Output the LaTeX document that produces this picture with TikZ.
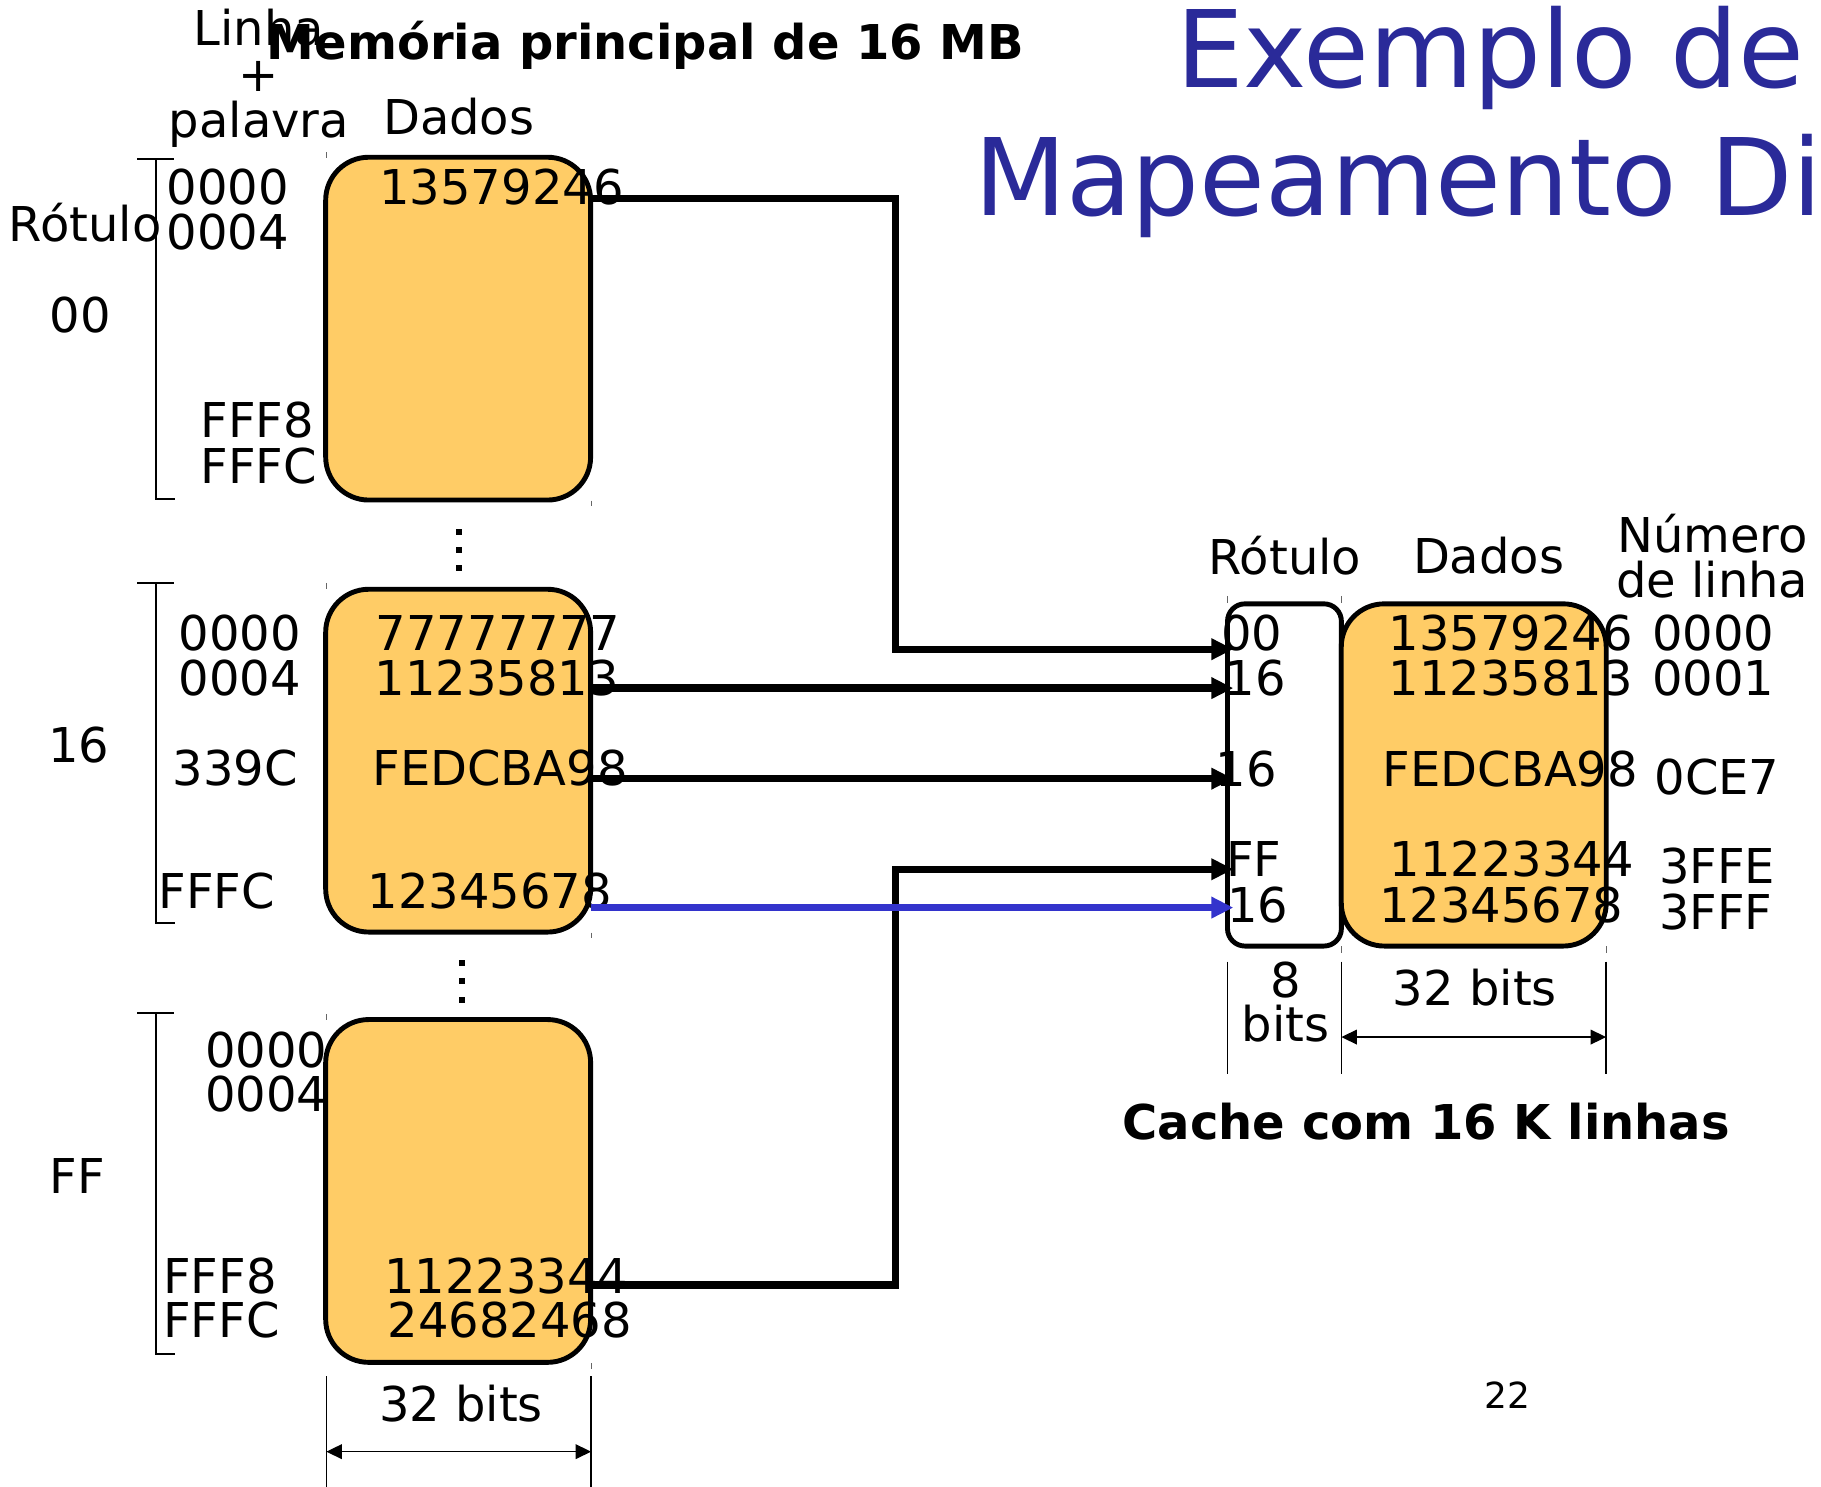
\documentclass[tikz,border=0pt]{standalone}
\usepackage{fontspec}
\setmainfont{DejaVu Sans}
\usetikzlibrary{arrows.meta}

\definecolor{laranja}{RGB}{255,204,102}
\definecolor{azultitulo}{RGB}{42,42,153}
\definecolor{azulseta}{RGB}{51,51,204}

\newcommand{\fonteNormal}{\fontsize{11.75pt}{11.2pt}\selectfont}
\newcommand{\fonteTitulo}{\fontsize{26.2pt}{26pt}\selectfont}
\newcommand{\fontePag}{\fontsize{8.8pt}{10pt}\selectfont}

\begin{document}
\begin{tikzpicture}[x=0.01cm, y=-0.01cm,
        texto/.style={inner sep=0pt, anchor=base west, font=\fonteNormal},
        centro/.style={inner sep=0pt, anchor=base, font=\fonteNormal},
        bloco/.style={draw, line width=1.2pt, fill=laranja, rounded corners=0.37cm, minimum width=2.28cm, minimum height=2.95cm, inner sep=0pt},
        caixarot/.style={draw, line width=1.2pt, fill=white, rounded corners=0.15cm, minimum width=0.98cm, minimum height=2.945cm, inner sep=0pt},
        chave/.style={line width=0.45pt},
        cota/.style={line width=0.35pt},
        seta/.style={line width=0.35pt, {Triangle[length=3.8pt,width=3.6pt]}-{Triangle[length=3.8pt,width=3.6pt]}},
        marca/.style={line width=0.3pt, black!60},
        fio/.style={line width=1.8pt, -{Triangle[length=5.4pt,width=5pt]}},
        fioazul/.style={line width=1.6pt, azulseta, -{Triangle[length=5.4pt,width=5pt]}}
    ]
    \useasboundingbox (0,0) rectangle (1568,1280);

    % titulo
    \node[texto, font=\fonteTitulo, text=azultitulo] (tit1) at (1012,75.5) {Exemplo de};
    \node[texto, font=\fonteTitulo, text=azultitulo] (tit2) at (838,186) {Mapeamento Di};

    % memoria principal
    \node[centro] (hlin) at (223,39) {Linha};
    \node[centro] (hmais) at (223,78.5) {+};
    \node[centro] (hpal) at (223,118) {palavra};
    \node[centro] (hdad) at (395,116) {Dados};
    \node[texto, font=\fonteNormal\bfseries] (hmem) at (229,51) {Memória principal de 16 MB};
    \node[texto] (hrot) at (7,208) {Rótulo};

    \node[bloco] (mem1) at (394.5,283) {};
    \node[bloco] (mem2) at (394.5,655) {};
    \node[bloco] (mem3) at (394.5,1025.5) {};

    \draw[chave] (118,137) -- (150,137) (134,137) -- (134,430) -- (151,430);
    \draw[chave] (118,502) -- (150,502) (134,502) -- (134,795) -- (151,795);
    \draw[chave] (118,872) -- (150,872) (134,872) -- (134,1166) -- (151,1166);

    \draw[marca] (281,131) -- (281,136) (509,431) -- (509,436);
    \draw[marca] (281,502) -- (281,507) (509,803) -- (509,808);
    \draw[marca] (281,873) -- (281,878) (509,1174) -- (509,1179);

    \foreach \y in {458,473.5,489} \fill (393,\y-2.5) rectangle +(5,5);
    \foreach \y in {829,845,861} \fill (395.5,\y-2.5) rectangle +(5,5);

    % bloco 00
    \node[texto] (t00) at (42,286) {00};
    \node[texto] (a10) at (143,176) {0000};
    \node[texto] (a11) at (143,215) {0004};
    \node[texto] (a12) at (172,377) {FFF8};
    \node[texto] (a13) at (172,416) {FFFC};
    \node[texto] (d10) at (326,176) {13579246};

    % bloco 16
    \node[texto] (t16) at (41,657) {16};
    \node[texto] (a20) at (153,560) {0000};
    \node[texto] (a21) at (153,599) {0004};
    \node[texto] (a22) at (148,676) {339C};
    \node[texto] (a23) at (136,782) {FFFC};
    \node[texto] (d20) at (323,560) {77777777};
    \node[texto] (d21) at (322,599) {11235813};
    \node[texto] (d22) at (320,676) {FEDCBA98};
    \node[texto] (d23) at (316,782) {12345678};

    % bloco FF
    \node[texto] (tff) at (42,1028) {FF};
    \node[texto] (a30) at (176,919) {0000};
    \node[texto] (a31) at (176,957) {0004};
    \node[texto] (a32) at (140,1114) {FFF8};
    \node[texto] (a33) at (140,1152) {FFFC};
    \node[texto] (d32) at (330,1114) {11223344};
    \node[texto] (d33) at (333,1152) {24682468};

    \node[centro] (bmem) at (397,1224) {32 bits};
    \coordinate (cm1) at (281,1250);
    \coordinate (cm2) at (509,1250);
    \draw[cota] (281,1185) -- (281,1280) (509,1185) -- (509,1280);
    \draw[seta] (cm1) -- (cm2);

    % cache
    \node[caixarot] (rot) at (1106,667.3) {};
    \node[bloco, minimum height=2.945cm] (dad) at (1269,667.3) {};
    \draw[marca] (1057,513) -- (1057,519) (1155,513) -- (1155,519);
    \draw[marca] (1155,815) -- (1155,821) (1383,815) -- (1383,821);

    \node[texto] (hcrot) at (1040,495) {Rótulo};
    \node[texto] (hcdad) at (1216,494) {Dados};
    \node[texto] (hnum1) at (1392,475.5) {Número};
    \node[texto] (hnum2) at (1391,514.5) {de linha};

    \node[texto] (r0) at (1051,560) {00};
    \node[texto] (r1) at (1054,599) {16};
    \node[texto] (r2) at (1046,677) {16};
    \node[texto] (r3) at (1055,755) {FF};
    \node[texto] (r4) at (1056,794) {16};

    \node[texto] (c0) at (1195,560) {13579246};
    \node[texto] (c1) at (1195,599) {11235813};
    \node[texto] (c2) at (1190,677) {FEDCBA98};
    \node[texto] (c3) at (1196,755) {11223344};
    \node[texto] (c4) at (1187,794) {12345678};

    \node[texto] (n0) at (1422,560) {0000};
    \node[texto] (n1) at (1422,599) {0001};
    \node[texto] (n2) at (1424,684) {0CE7};
    \node[texto] (n3) at (1428,761) {3FFE};
    \node[texto] (n4) at (1428,800) {3FFF};

    \node[centro] (b8) at (1107,859) {8};
    \node[centro] (b8b) at (1107,897) {bits};
    \node[centro] (b32) at (1270,865.5) {32 bits};
    \coordinate (cc1) at (1155,893);
    \coordinate (cc2) at (1383,893);
    \draw[cota] (1057,828) -- (1057,925) (1155,828) -- (1155,925) (1383,828) -- (1383,925);
    \draw[seta] (cc1) -- (cc2);

    \node[texto, font=\fonteNormal\bfseries] (hcache) at (966,981) {Cache com 16 K linhas};
    \node[inner sep=0pt, anchor=base, font=\fontePag] (pag) at (1298,1213) {22};

    % ligacoes
    \coordinate (s1) at (509,171);
    \coordinate (s2) at (509,592.5);
    \coordinate (s3) at (509,670.5);
    \coordinate (s4) at (509,781.5);
    \coordinate (s5) at (509,1106.5);
    \coordinate (e1) at (1062,559);
    \coordinate (e2) at (1062,592.5);
    \coordinate (e3) at (1062,670.5);
    \coordinate (e4) at (1062,748.5);
    \coordinate (e5) at (1062,781.5);

    \draw[fio] (s1) -| (771,559) -- (e1);
    \draw[fio] (s2) -- (e2);
    \draw[fio] (s3) -- (e3);
    \draw[fio] (s5) -| (771,748.5) -- (e4);
    \draw[fioazul] (s4) -- (e5);
\end{tikzpicture}
\end{document}
